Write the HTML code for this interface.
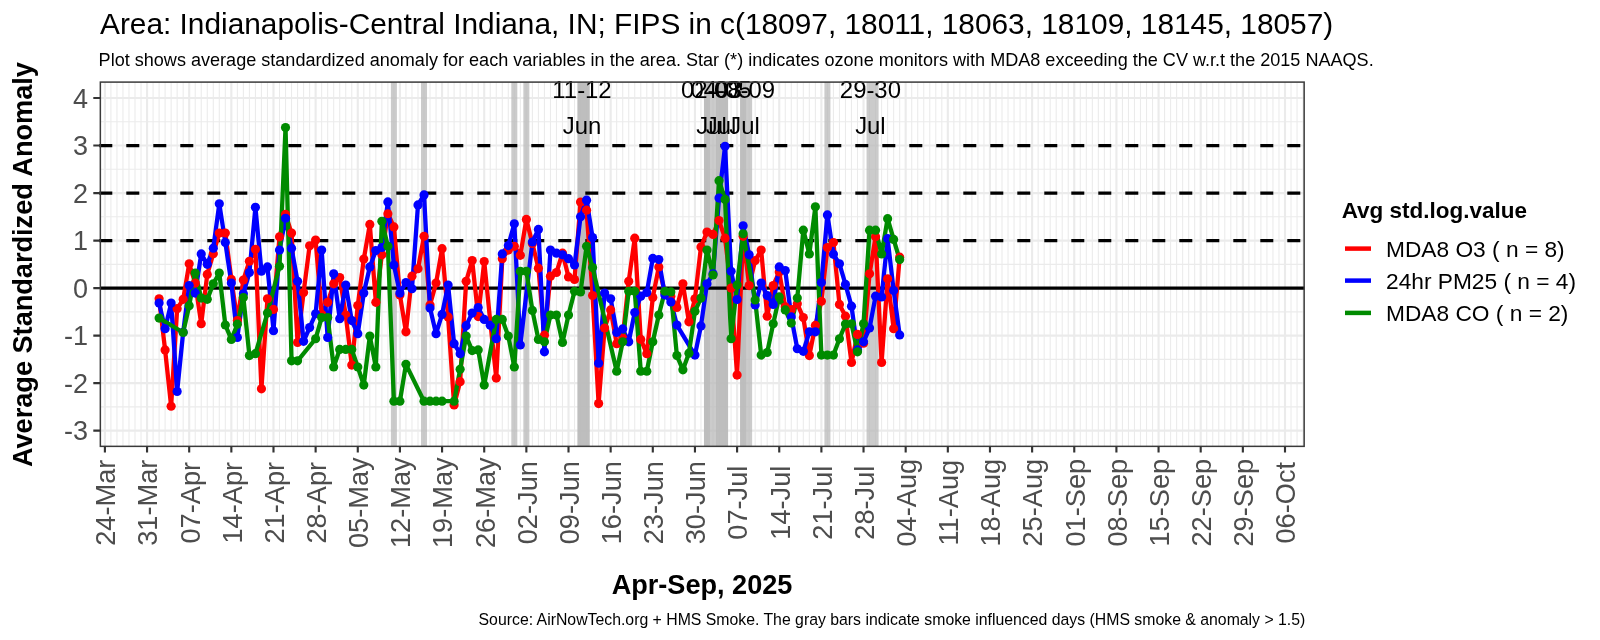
<!DOCTYPE html><html><head><meta charset="utf-8"><style>html,body{margin:0;padding:0;background:#fff;width:1600px;height:640px;overflow:hidden}svg{display:block;will-change:transform}</style></head><body>
<svg width="1600" height="640" viewBox="0 0 1600 640" font-family='&quot;Liberation Sans&quot;, sans-serif'>
<rect width="1600" height="640" fill="#fff"/>
<rect x="100" y="82" width="1204.4" height="364.4" fill="#fff"/>
<path d="M110.92 82V446.4M116.94 82V446.4M122.96 82V446.4M128.98 82V446.4M135 82V446.4M141.03 82V446.4M153.07 82V446.4M159.09 82V446.4M165.11 82V446.4M171.13 82V446.4M177.15 82V446.4M183.17 82V446.4M195.21 82V446.4M201.23 82V446.4M207.26 82V446.4M213.28 82V446.4M219.3 82V446.4M225.32 82V446.4M237.36 82V446.4M243.38 82V446.4M249.4 82V446.4M255.42 82V446.4M261.44 82V446.4M267.46 82V446.4M279.51 82V446.4M285.53 82V446.4M291.55 82V446.4M297.57 82V446.4M303.59 82V446.4M309.61 82V446.4M321.65 82V446.4M327.67 82V446.4M333.69 82V446.4M339.72 82V446.4M345.74 82V446.4M351.76 82V446.4M363.8 82V446.4M369.82 82V446.4M375.84 82V446.4M381.86 82V446.4M387.88 82V446.4M393.9 82V446.4M405.95 82V446.4M411.97 82V446.4M417.99 82V446.4M424.01 82V446.4M430.03 82V446.4M436.05 82V446.4M448.09 82V446.4M454.11 82V446.4M460.13 82V446.4M466.15 82V446.4M472.17 82V446.4M478.2 82V446.4M490.24 82V446.4M496.26 82V446.4M502.28 82V446.4M508.3 82V446.4M514.32 82V446.4M520.34 82V446.4M532.38 82V446.4M538.4 82V446.4M544.43 82V446.4M550.45 82V446.4M556.47 82V446.4M562.49 82V446.4M574.53 82V446.4M580.55 82V446.4M586.57 82V446.4M592.59 82V446.4M598.61 82V446.4M604.63 82V446.4M616.68 82V446.4M622.7 82V446.4M628.72 82V446.4M634.74 82V446.4M640.76 82V446.4M646.78 82V446.4M658.82 82V446.4M664.84 82V446.4M670.86 82V446.4M676.89 82V446.4M682.91 82V446.4M688.93 82V446.4M700.97 82V446.4M706.99 82V446.4M713.01 82V446.4M719.03 82V446.4M725.05 82V446.4M731.07 82V446.4M743.12 82V446.4M749.14 82V446.4M755.16 82V446.4M761.18 82V446.4M767.2 82V446.4M773.22 82V446.4M785.26 82V446.4M791.28 82V446.4M797.3 82V446.4M803.32 82V446.4M809.35 82V446.4M815.37 82V446.4M827.41 82V446.4M833.43 82V446.4M839.45 82V446.4M845.47 82V446.4M851.49 82V446.4M857.51 82V446.4M869.55 82V446.4M875.58 82V446.4M881.6 82V446.4M887.62 82V446.4M893.64 82V446.4M899.66 82V446.4M911.7 82V446.4M917.72 82V446.4M923.74 82V446.4M929.76 82V446.4M935.78 82V446.4M941.81 82V446.4M953.85 82V446.4M959.87 82V446.4M965.89 82V446.4M971.91 82V446.4M977.93 82V446.4M983.95 82V446.4M995.99 82V446.4M1002.01 82V446.4M1008.03 82V446.4M1014.06 82V446.4M1020.08 82V446.4M1026.1 82V446.4M1038.14 82V446.4M1044.16 82V446.4M1050.18 82V446.4M1056.2 82V446.4M1062.22 82V446.4M1068.24 82V446.4M1080.29 82V446.4M1086.31 82V446.4M1092.33 82V446.4M1098.35 82V446.4M1104.37 82V446.4M1110.39 82V446.4M1122.43 82V446.4M1128.45 82V446.4M1134.47 82V446.4M1140.49 82V446.4M1146.52 82V446.4M1152.54 82V446.4M1164.58 82V446.4M1170.6 82V446.4M1176.62 82V446.4M1182.64 82V446.4M1188.66 82V446.4M1194.68 82V446.4M1206.72 82V446.4M1212.75 82V446.4M1218.77 82V446.4M1224.79 82V446.4M1230.81 82V446.4M1236.83 82V446.4M1248.87 82V446.4M1254.89 82V446.4M1260.91 82V446.4M1266.93 82V446.4M1272.95 82V446.4M1278.98 82V446.4M1291.02 82V446.4M1297.04 82V446.4M1303.06 82V446.4" stroke="#EBEBEB" stroke-width="1.07" fill="none"/>
<path d="M100 406.9H1304.4M100 359.38H1304.4M100 311.86H1304.4M100 264.34H1304.4M100 216.82H1304.4M100 169.3H1304.4M100 121.78H1304.4" stroke="#EBEBEB" stroke-width="1.07" fill="none"/>
<path d="M104.9 82V446.4M147.05 82V446.4M189.19 82V446.4M231.34 82V446.4M273.49 82V446.4M315.63 82V446.4M357.78 82V446.4M399.92 82V446.4M442.07 82V446.4M484.22 82V446.4M526.36 82V446.4M568.51 82V446.4M610.66 82V446.4M652.8 82V446.4M694.95 82V446.4M737.09 82V446.4M779.24 82V446.4M821.39 82V446.4M863.53 82V446.4M905.68 82V446.4M947.83 82V446.4M989.97 82V446.4M1032.12 82V446.4M1074.26 82V446.4M1116.41 82V446.4M1158.56 82V446.4M1200.7 82V446.4M1242.85 82V446.4M1285 82V446.4M100 430.66H1304.4M100 383.14H1304.4M100 335.62H1304.4M100 288.1H1304.4M100 240.58H1304.4M100 193.06H1304.4M100 145.54H1304.4M100 98.02H1304.4" stroke="#EBEBEB" stroke-width="2.13" fill="none"/>
<rect x="390.89" y="82" width="6.02" height="364.4" fill="#BABABA" fill-opacity="0.75"/>
<rect x="421" y="82" width="6.02" height="364.4" fill="#BABABA" fill-opacity="0.75"/>
<rect x="511.31" y="82" width="6.02" height="364.4" fill="#BABABA" fill-opacity="0.75"/>
<rect x="523.35" y="82" width="6.02" height="364.4" fill="#BABABA" fill-opacity="0.75"/>
<rect x="577.54" y="82" width="12.04" height="364.4" fill="#BABABA" fill-opacity="0.75"/>
<rect x="703.98" y="82" width="24.08" height="364.4" fill="#BABABA" fill-opacity="0.75"/>
<rect x="740.1" y="82" width="12.04" height="364.4" fill="#BABABA" fill-opacity="0.75"/>
<rect x="824.4" y="82" width="6.02" height="364.4" fill="#BABABA" fill-opacity="0.75"/>
<rect x="866.54" y="82" width="12.04" height="364.4" fill="#BABABA" fill-opacity="0.75"/>
<rect x="577.54" y="82" width="12.04" height="364.4" fill="#BABABA" fill-opacity="0.75"/>
<rect x="703.98" y="82" width="6.02" height="364.4" fill="#BABABA" fill-opacity="0.75"/>
<rect x="716.02" y="82" width="12.04" height="364.4" fill="#BABABA" fill-opacity="0.75"/>
<rect x="740.1" y="82" width="6.02" height="364.4" fill="#BABABA" fill-opacity="0.75"/>
<path d="M99.3 240.58H1304.4" stroke="#000" stroke-width="3.3" stroke-dasharray="13 14" fill="none"/>
<path d="M99.3 193.06H1304.4" stroke="#000" stroke-width="3.3" stroke-dasharray="13 14" fill="none"/>
<path d="M99.3 145.54H1304.4" stroke="#000" stroke-width="3.3" stroke-dasharray="13 14" fill="none"/>
<path d="M100 288.1H1304.4" stroke="#000" stroke-width="3.2" fill="none"/>
<polyline points="159.09,298.74 165.11,349.88 171.13,406.23 177.15,308.72 183.17,299.36 189.19,263.77 195.21,283.11 201.23,323.74 207.26,274.41 213.28,253.74 219.3,232.98 225.32,232.98 231.34,279.4 237.36,320.6 243.38,280.02 249.4,261.25 255.42,249.37 261.44,388.84 267.46,298.74 273.49,309.39 279.51,236.78 285.53,214.44 291.55,233.12 297.57,342.51 303.59,292.52 309.61,245.81 315.63,240.1 321.65,314.24 327.67,302.36 333.69,283.82 339.72,277.5 345.74,315 351.76,365.08 357.78,305.59 363.8,259.11 369.82,224.42 375.84,302.36 381.86,254.84 387.88,213.73 393.9,226.89 399.92,294.99 405.95,331.82 411.97,276.22 417.99,268.76 424.01,236.3 430.03,305.02 436.05,283.11 442.07,248.66 448.09,316.9 454.11,405 460.13,381.71 466.15,281.26 472.17,260.54 478.2,316.61 484.22,261.49 490.24,321.36 496.26,378.1 502.28,258.64 508.3,250.08 514.32,246.28 520.34,255.31 526.36,219.39 532.38,243.43 538.4,268.14 544.43,335.14 550.45,276.22 556.47,272.51 562.49,253.13 568.51,276.89 574.53,279.4 580.55,202.09 586.57,210.17 592.59,295.61 598.61,403.57 604.63,328.02 610.66,309.96 616.68,343.7 622.7,338 628.72,281.26 634.74,238.2 640.76,339.42 646.78,353.68 652.8,297.51 658.82,266.91 664.84,292.85 670.86,296.18 676.89,307.49 682.91,283.82 688.93,321.84 694.95,298.74 700.97,246.9 706.99,232.03 713.01,234.4 719.03,220.62 725.05,238.2 731.07,288.1 737.09,375.06 743.12,236.3 749.14,285.58 755.16,260.54 761.18,250.08 767.2,316.14 773.22,285.58 779.24,271.94 785.26,306.87 791.28,309.48 797.3,303.78 803.32,317.56 809.35,355.58 815.37,325.4 821.39,301.26 827.41,247.52 833.43,242.48 839.45,304.4 845.47,316.14 851.49,362.52 857.51,334.38 863.53,343.22 869.55,273.84 875.58,236.78 881.6,362.52 887.62,278.74 893.64,328.73 899.66,257.21" fill="none" stroke="#FF0000" stroke-width="4.3" stroke-linejoin="round" stroke-linecap="butt"/>
<polyline points="159.09,303.12 165.11,328.73 171.13,303.12 177.15,391.5 183.17,332.29 189.19,285.58 195.21,293.09 201.23,253.89 207.26,264.34 213.28,248.18 219.3,203.75 225.32,242.48 231.34,283.11 237.36,337.52 243.38,293.8 249.4,272.51 255.42,207.32 261.44,271.23 267.46,266.91 273.49,330.63 279.51,250.08 285.53,218.25 291.55,248.18 297.57,281.26 303.59,341.32 309.61,327.54 315.63,313.76 321.65,250.08 327.67,337.52 333.69,273.84 339.72,318.75 345.74,285.01 351.76,320.6 357.78,333.72 363.8,293.09 369.82,266.91 375.84,250.56 381.86,247.52 387.88,201.9 393.9,265.01 399.92,293.09 405.95,282.49 411.97,288.77 417.99,204.94 424.01,194.96 430.03,308.06 436.05,333.72 442.07,314.38 448.09,285.01 454.11,343.7 460.13,353.68 466.15,325.64 472.17,313.1 478.2,307.49 484.22,319.46 490.24,325.17 496.26,338.76 502.28,253.89 508.3,245.62 514.32,223.76 520.34,344.98 532.38,242.01 538.4,229.41 544.43,351.78 550.45,250.08 556.47,253.13 562.49,254.84 568.51,258.64 574.53,265.01 580.55,216.82 586.57,200.19 592.59,237.49 598.61,363.18 604.63,293.09 610.66,298.74 616.68,332.48 622.7,328.97 628.72,341.8 634.74,312.48 640.76,296.18 646.78,292.52 652.8,258.4 658.82,259.59 664.84,294.99 670.86,301.88 676.89,325.02 694.95,355.1 700.97,325.88 706.99,283.82 713.01,273.84 719.03,198.1 725.05,146.25 731.07,271.23 737.09,299.5 743.12,225.85 749.14,254.84 755.16,305.02 761.18,283.11 767.2,295.61 773.22,304.4 779.24,266.91 785.26,270.61 791.28,316.9 797.3,348.74 803.32,351.3 809.35,331.82 815.37,331.82 821.39,282.49 827.41,214.92 833.43,254.36 839.45,263.77 845.47,284.39 851.49,306.16 857.51,349.88 863.53,341.8 869.55,328.02 875.58,296.18 881.6,296.89 887.62,238.68 893.64,290.48 899.66,335" fill="none" stroke="#0000FF" stroke-width="4.3" stroke-linejoin="round" stroke-linecap="butt"/>
<polyline points="159.09,318.04 183.17,332.48 189.19,305.68 195.21,273.08 201.23,298.08 207.26,299.36 213.28,283.82 219.3,273.08 225.32,325.02 231.34,339.42 237.36,324.22 243.38,297.51 249.4,355.58 255.42,353.68 267.46,313.1 279.51,266.24 285.53,127.48 291.55,360.81 297.57,360.81 315.63,338.76 321.65,317.56 327.67,317.56 333.69,366.98 339.72,349.4 345.74,349.4 351.76,349.4 357.78,366.98 363.8,385.04 369.82,336.1 375.84,366.98 381.86,221.24 387.88,246.28 393.9,401.2 399.92,401.2 405.95,364.37 424.01,401.2 430.03,401.2 436.05,401.2 442.07,401.2 454.11,401.2 460.13,369.36 466.15,336.1 472.17,350.59 478.2,349.88 484.22,385.04 496.26,319.46 502.28,319.46 508.3,336.1 514.32,366.98 520.34,271.23 526.36,271.23 532.38,310.43 538.4,339.42 544.43,341.8 550.45,315 556.47,315 562.49,342.51 568.51,315 574.53,291.24 580.55,291.9 586.57,246.28 592.59,267.48 616.68,371.26 622.7,341.8 628.72,291.24 634.74,291.24 640.76,371.26 646.78,371.26 652.8,341.8 658.82,315 664.84,291.24 670.86,291.9 676.89,355.58 682.91,369.83 688.93,353.2 694.95,311.24 700.97,298.08 706.99,250.08 713.01,274.98 719.03,180.7 725.05,199.43 731.07,338.76 737.09,285.01 743.12,233.74 755.16,299.98 761.18,355.1 767.2,352.49 773.22,323.74 779.24,296.89 785.26,309.96 791.28,323.12 797.3,298.08 803.32,230.13 809.35,253.89 815.37,206.84 821.39,355.1 827.41,355.1 833.43,355.1 839.45,338.76 845.47,323.98 851.49,323.74 857.51,351.78 863.53,323.74 869.55,230.13 875.58,230.13 881.6,253.89 887.62,218.72 893.64,239.39 899.66,259.59" fill="none" stroke="#008B00" stroke-width="4.3" stroke-linejoin="round" stroke-linecap="butt"/>
<g fill="#FF0000">
<circle cx="159.09" cy="298.74" r="4.6"/>
<circle cx="165.11" cy="349.88" r="4.6"/>
<circle cx="171.13" cy="406.23" r="4.6"/>
<circle cx="177.15" cy="308.72" r="4.6"/>
<circle cx="183.17" cy="299.36" r="4.6"/>
<circle cx="189.19" cy="263.77" r="4.6"/>
<circle cx="195.21" cy="283.11" r="4.6"/>
<circle cx="201.23" cy="323.74" r="4.6"/>
<circle cx="207.26" cy="274.41" r="4.6"/>
<circle cx="213.28" cy="253.74" r="4.6"/>
<circle cx="219.3" cy="232.98" r="4.6"/>
<circle cx="225.32" cy="232.98" r="4.6"/>
<circle cx="231.34" cy="279.4" r="4.6"/>
<circle cx="237.36" cy="320.6" r="4.6"/>
<circle cx="243.38" cy="280.02" r="4.6"/>
<circle cx="249.4" cy="261.25" r="4.6"/>
<circle cx="255.42" cy="249.37" r="4.6"/>
<circle cx="261.44" cy="388.84" r="4.6"/>
<circle cx="267.46" cy="298.74" r="4.6"/>
<circle cx="273.49" cy="309.39" r="4.6"/>
<circle cx="279.51" cy="236.78" r="4.6"/>
<circle cx="285.53" cy="214.44" r="4.6"/>
<circle cx="291.55" cy="233.12" r="4.6"/>
<circle cx="297.57" cy="342.51" r="4.6"/>
<circle cx="303.59" cy="292.52" r="4.6"/>
<circle cx="309.61" cy="245.81" r="4.6"/>
<circle cx="315.63" cy="240.1" r="4.6"/>
<circle cx="321.65" cy="314.24" r="4.6"/>
<circle cx="327.67" cy="302.36" r="4.6"/>
<circle cx="333.69" cy="283.82" r="4.6"/>
<circle cx="339.72" cy="277.5" r="4.6"/>
<circle cx="345.74" cy="315" r="4.6"/>
<circle cx="351.76" cy="365.08" r="4.6"/>
<circle cx="357.78" cy="305.59" r="4.6"/>
<circle cx="363.8" cy="259.11" r="4.6"/>
<circle cx="369.82" cy="224.42" r="4.6"/>
<circle cx="375.84" cy="302.36" r="4.6"/>
<circle cx="381.86" cy="254.84" r="4.6"/>
<circle cx="387.88" cy="213.73" r="4.6"/>
<circle cx="393.9" cy="226.89" r="4.6"/>
<circle cx="399.92" cy="294.99" r="4.6"/>
<circle cx="405.95" cy="331.82" r="4.6"/>
<circle cx="411.97" cy="276.22" r="4.6"/>
<circle cx="417.99" cy="268.76" r="4.6"/>
<circle cx="424.01" cy="236.3" r="4.6"/>
<circle cx="430.03" cy="305.02" r="4.6"/>
<circle cx="436.05" cy="283.11" r="4.6"/>
<circle cx="442.07" cy="248.66" r="4.6"/>
<circle cx="448.09" cy="316.9" r="4.6"/>
<circle cx="454.11" cy="405" r="4.6"/>
<circle cx="460.13" cy="381.71" r="4.6"/>
<circle cx="466.15" cy="281.26" r="4.6"/>
<circle cx="472.17" cy="260.54" r="4.6"/>
<circle cx="478.2" cy="316.61" r="4.6"/>
<circle cx="484.22" cy="261.49" r="4.6"/>
<circle cx="490.24" cy="321.36" r="4.6"/>
<circle cx="496.26" cy="378.1" r="4.6"/>
<circle cx="502.28" cy="258.64" r="4.6"/>
<circle cx="508.3" cy="250.08" r="4.6"/>
<circle cx="514.32" cy="246.28" r="4.6"/>
<circle cx="520.34" cy="255.31" r="4.6"/>
<circle cx="526.36" cy="219.39" r="4.6"/>
<circle cx="532.38" cy="243.43" r="4.6"/>
<circle cx="538.4" cy="268.14" r="4.6"/>
<circle cx="544.43" cy="335.14" r="4.6"/>
<circle cx="550.45" cy="276.22" r="4.6"/>
<circle cx="556.47" cy="272.51" r="4.6"/>
<circle cx="562.49" cy="253.13" r="4.6"/>
<circle cx="568.51" cy="276.89" r="4.6"/>
<circle cx="574.53" cy="279.4" r="4.6"/>
<circle cx="580.55" cy="202.09" r="4.6"/>
<circle cx="586.57" cy="210.17" r="4.6"/>
<circle cx="592.59" cy="295.61" r="4.6"/>
<circle cx="598.61" cy="403.57" r="4.6"/>
<circle cx="604.63" cy="328.02" r="4.6"/>
<circle cx="610.66" cy="309.96" r="4.6"/>
<circle cx="616.68" cy="343.7" r="4.6"/>
<circle cx="622.7" cy="338" r="4.6"/>
<circle cx="628.72" cy="281.26" r="4.6"/>
<circle cx="634.74" cy="238.2" r="4.6"/>
<circle cx="640.76" cy="339.42" r="4.6"/>
<circle cx="646.78" cy="353.68" r="4.6"/>
<circle cx="652.8" cy="297.51" r="4.6"/>
<circle cx="658.82" cy="266.91" r="4.6"/>
<circle cx="664.84" cy="292.85" r="4.6"/>
<circle cx="670.86" cy="296.18" r="4.6"/>
<circle cx="676.89" cy="307.49" r="4.6"/>
<circle cx="682.91" cy="283.82" r="4.6"/>
<circle cx="688.93" cy="321.84" r="4.6"/>
<circle cx="694.95" cy="298.74" r="4.6"/>
<circle cx="700.97" cy="246.9" r="4.6"/>
<circle cx="706.99" cy="232.03" r="4.6"/>
<circle cx="713.01" cy="234.4" r="4.6"/>
<circle cx="719.03" cy="220.62" r="4.6"/>
<circle cx="725.05" cy="238.2" r="4.6"/>
<circle cx="731.07" cy="288.1" r="4.6"/>
<circle cx="737.09" cy="375.06" r="4.6"/>
<circle cx="743.12" cy="236.3" r="4.6"/>
<circle cx="749.14" cy="285.58" r="4.6"/>
<circle cx="755.16" cy="260.54" r="4.6"/>
<circle cx="761.18" cy="250.08" r="4.6"/>
<circle cx="767.2" cy="316.14" r="4.6"/>
<circle cx="773.22" cy="285.58" r="4.6"/>
<circle cx="779.24" cy="271.94" r="4.6"/>
<circle cx="785.26" cy="306.87" r="4.6"/>
<circle cx="791.28" cy="309.48" r="4.6"/>
<circle cx="797.3" cy="303.78" r="4.6"/>
<circle cx="803.32" cy="317.56" r="4.6"/>
<circle cx="809.35" cy="355.58" r="4.6"/>
<circle cx="815.37" cy="325.4" r="4.6"/>
<circle cx="821.39" cy="301.26" r="4.6"/>
<circle cx="827.41" cy="247.52" r="4.6"/>
<circle cx="833.43" cy="242.48" r="4.6"/>
<circle cx="839.45" cy="304.4" r="4.6"/>
<circle cx="845.47" cy="316.14" r="4.6"/>
<circle cx="851.49" cy="362.52" r="4.6"/>
<circle cx="857.51" cy="334.38" r="4.6"/>
<circle cx="863.53" cy="343.22" r="4.6"/>
<circle cx="869.55" cy="273.84" r="4.6"/>
<circle cx="875.58" cy="236.78" r="4.6"/>
<circle cx="881.6" cy="362.52" r="4.6"/>
<circle cx="887.62" cy="278.74" r="4.6"/>
<circle cx="893.64" cy="328.73" r="4.6"/>
<circle cx="899.66" cy="257.21" r="4.6"/>
</g>
<g fill="#0000FF">
<circle cx="159.09" cy="303.12" r="4.6"/>
<circle cx="165.11" cy="328.73" r="4.6"/>
<circle cx="171.13" cy="303.12" r="4.6"/>
<circle cx="177.15" cy="391.5" r="4.6"/>
<circle cx="183.17" cy="332.29" r="4.6"/>
<circle cx="189.19" cy="285.58" r="4.6"/>
<circle cx="195.21" cy="293.09" r="4.6"/>
<circle cx="201.23" cy="253.89" r="4.6"/>
<circle cx="207.26" cy="264.34" r="4.6"/>
<circle cx="213.28" cy="248.18" r="4.6"/>
<circle cx="219.3" cy="203.75" r="4.6"/>
<circle cx="225.32" cy="242.48" r="4.6"/>
<circle cx="231.34" cy="283.11" r="4.6"/>
<circle cx="237.36" cy="337.52" r="4.6"/>
<circle cx="243.38" cy="293.8" r="4.6"/>
<circle cx="249.4" cy="272.51" r="4.6"/>
<circle cx="255.42" cy="207.32" r="4.6"/>
<circle cx="261.44" cy="271.23" r="4.6"/>
<circle cx="267.46" cy="266.91" r="4.6"/>
<circle cx="273.49" cy="330.63" r="4.6"/>
<circle cx="279.51" cy="250.08" r="4.6"/>
<circle cx="285.53" cy="218.25" r="4.6"/>
<circle cx="291.55" cy="248.18" r="4.6"/>
<circle cx="297.57" cy="281.26" r="4.6"/>
<circle cx="303.59" cy="341.32" r="4.6"/>
<circle cx="309.61" cy="327.54" r="4.6"/>
<circle cx="315.63" cy="313.76" r="4.6"/>
<circle cx="321.65" cy="250.08" r="4.6"/>
<circle cx="327.67" cy="337.52" r="4.6"/>
<circle cx="333.69" cy="273.84" r="4.6"/>
<circle cx="339.72" cy="318.75" r="4.6"/>
<circle cx="345.74" cy="285.01" r="4.6"/>
<circle cx="351.76" cy="320.6" r="4.6"/>
<circle cx="357.78" cy="333.72" r="4.6"/>
<circle cx="363.8" cy="293.09" r="4.6"/>
<circle cx="369.82" cy="266.91" r="4.6"/>
<circle cx="375.84" cy="250.56" r="4.6"/>
<circle cx="381.86" cy="247.52" r="4.6"/>
<circle cx="387.88" cy="201.9" r="4.6"/>
<circle cx="393.9" cy="265.01" r="4.6"/>
<circle cx="399.92" cy="293.09" r="4.6"/>
<circle cx="405.95" cy="282.49" r="4.6"/>
<circle cx="411.97" cy="288.77" r="4.6"/>
<circle cx="417.99" cy="204.94" r="4.6"/>
<circle cx="424.01" cy="194.96" r="4.6"/>
<circle cx="430.03" cy="308.06" r="4.6"/>
<circle cx="436.05" cy="333.72" r="4.6"/>
<circle cx="442.07" cy="314.38" r="4.6"/>
<circle cx="448.09" cy="285.01" r="4.6"/>
<circle cx="454.11" cy="343.7" r="4.6"/>
<circle cx="460.13" cy="353.68" r="4.6"/>
<circle cx="466.15" cy="325.64" r="4.6"/>
<circle cx="472.17" cy="313.1" r="4.6"/>
<circle cx="478.2" cy="307.49" r="4.6"/>
<circle cx="484.22" cy="319.46" r="4.6"/>
<circle cx="490.24" cy="325.17" r="4.6"/>
<circle cx="496.26" cy="338.76" r="4.6"/>
<circle cx="502.28" cy="253.89" r="4.6"/>
<circle cx="508.3" cy="245.62" r="4.6"/>
<circle cx="514.32" cy="223.76" r="4.6"/>
<circle cx="520.34" cy="344.98" r="4.6"/>
<circle cx="532.38" cy="242.01" r="4.6"/>
<circle cx="538.4" cy="229.41" r="4.6"/>
<circle cx="544.43" cy="351.78" r="4.6"/>
<circle cx="550.45" cy="250.08" r="4.6"/>
<circle cx="556.47" cy="253.13" r="4.6"/>
<circle cx="562.49" cy="254.84" r="4.6"/>
<circle cx="568.51" cy="258.64" r="4.6"/>
<circle cx="574.53" cy="265.01" r="4.6"/>
<circle cx="580.55" cy="216.82" r="4.6"/>
<circle cx="586.57" cy="200.19" r="4.6"/>
<circle cx="592.59" cy="237.49" r="4.6"/>
<circle cx="598.61" cy="363.18" r="4.6"/>
<circle cx="604.63" cy="293.09" r="4.6"/>
<circle cx="610.66" cy="298.74" r="4.6"/>
<circle cx="616.68" cy="332.48" r="4.6"/>
<circle cx="622.7" cy="328.97" r="4.6"/>
<circle cx="628.72" cy="341.8" r="4.6"/>
<circle cx="634.74" cy="312.48" r="4.6"/>
<circle cx="640.76" cy="296.18" r="4.6"/>
<circle cx="646.78" cy="292.52" r="4.6"/>
<circle cx="652.8" cy="258.4" r="4.6"/>
<circle cx="658.82" cy="259.59" r="4.6"/>
<circle cx="664.84" cy="294.99" r="4.6"/>
<circle cx="670.86" cy="301.88" r="4.6"/>
<circle cx="676.89" cy="325.02" r="4.6"/>
<circle cx="694.95" cy="355.1" r="4.6"/>
<circle cx="700.97" cy="325.88" r="4.6"/>
<circle cx="706.99" cy="283.82" r="4.6"/>
<circle cx="713.01" cy="273.84" r="4.6"/>
<circle cx="719.03" cy="198.1" r="4.6"/>
<circle cx="725.05" cy="146.25" r="4.6"/>
<circle cx="731.07" cy="271.23" r="4.6"/>
<circle cx="737.09" cy="299.5" r="4.6"/>
<circle cx="743.12" cy="225.85" r="4.6"/>
<circle cx="749.14" cy="254.84" r="4.6"/>
<circle cx="755.16" cy="305.02" r="4.6"/>
<circle cx="761.18" cy="283.11" r="4.6"/>
<circle cx="767.2" cy="295.61" r="4.6"/>
<circle cx="773.22" cy="304.4" r="4.6"/>
<circle cx="779.24" cy="266.91" r="4.6"/>
<circle cx="785.26" cy="270.61" r="4.6"/>
<circle cx="791.28" cy="316.9" r="4.6"/>
<circle cx="797.3" cy="348.74" r="4.6"/>
<circle cx="803.32" cy="351.3" r="4.6"/>
<circle cx="809.35" cy="331.82" r="4.6"/>
<circle cx="815.37" cy="331.82" r="4.6"/>
<circle cx="821.39" cy="282.49" r="4.6"/>
<circle cx="827.41" cy="214.92" r="4.6"/>
<circle cx="833.43" cy="254.36" r="4.6"/>
<circle cx="839.45" cy="263.77" r="4.6"/>
<circle cx="845.47" cy="284.39" r="4.6"/>
<circle cx="851.49" cy="306.16" r="4.6"/>
<circle cx="857.51" cy="349.88" r="4.6"/>
<circle cx="863.53" cy="341.8" r="4.6"/>
<circle cx="869.55" cy="328.02" r="4.6"/>
<circle cx="875.58" cy="296.18" r="4.6"/>
<circle cx="881.6" cy="296.89" r="4.6"/>
<circle cx="887.62" cy="238.68" r="4.6"/>
<circle cx="893.64" cy="290.48" r="4.6"/>
<circle cx="899.66" cy="335" r="4.6"/>
</g>
<g fill="#008B00">
<circle cx="159.09" cy="318.04" r="4.6"/>
<circle cx="183.17" cy="332.48" r="4.6"/>
<circle cx="189.19" cy="305.68" r="4.6"/>
<circle cx="195.21" cy="273.08" r="4.6"/>
<circle cx="201.23" cy="298.08" r="4.6"/>
<circle cx="207.26" cy="299.36" r="4.6"/>
<circle cx="213.28" cy="283.82" r="4.6"/>
<circle cx="219.3" cy="273.08" r="4.6"/>
<circle cx="225.32" cy="325.02" r="4.6"/>
<circle cx="231.34" cy="339.42" r="4.6"/>
<circle cx="237.36" cy="324.22" r="4.6"/>
<circle cx="243.38" cy="297.51" r="4.6"/>
<circle cx="249.4" cy="355.58" r="4.6"/>
<circle cx="255.42" cy="353.68" r="4.6"/>
<circle cx="267.46" cy="313.1" r="4.6"/>
<circle cx="279.51" cy="266.24" r="4.6"/>
<circle cx="285.53" cy="127.48" r="4.6"/>
<circle cx="291.55" cy="360.81" r="4.6"/>
<circle cx="297.57" cy="360.81" r="4.6"/>
<circle cx="315.63" cy="338.76" r="4.6"/>
<circle cx="321.65" cy="317.56" r="4.6"/>
<circle cx="327.67" cy="317.56" r="4.6"/>
<circle cx="333.69" cy="366.98" r="4.6"/>
<circle cx="339.72" cy="349.4" r="4.6"/>
<circle cx="345.74" cy="349.4" r="4.6"/>
<circle cx="351.76" cy="349.4" r="4.6"/>
<circle cx="357.78" cy="366.98" r="4.6"/>
<circle cx="363.8" cy="385.04" r="4.6"/>
<circle cx="369.82" cy="336.1" r="4.6"/>
<circle cx="375.84" cy="366.98" r="4.6"/>
<circle cx="381.86" cy="221.24" r="4.6"/>
<circle cx="387.88" cy="246.28" r="4.6"/>
<circle cx="393.9" cy="401.2" r="4.6"/>
<circle cx="399.92" cy="401.2" r="4.6"/>
<circle cx="405.95" cy="364.37" r="4.6"/>
<circle cx="424.01" cy="401.2" r="4.6"/>
<circle cx="430.03" cy="401.2" r="4.6"/>
<circle cx="436.05" cy="401.2" r="4.6"/>
<circle cx="442.07" cy="401.2" r="4.6"/>
<circle cx="454.11" cy="401.2" r="4.6"/>
<circle cx="460.13" cy="369.36" r="4.6"/>
<circle cx="466.15" cy="336.1" r="4.6"/>
<circle cx="472.17" cy="350.59" r="4.6"/>
<circle cx="478.2" cy="349.88" r="4.6"/>
<circle cx="484.22" cy="385.04" r="4.6"/>
<circle cx="496.26" cy="319.46" r="4.6"/>
<circle cx="502.28" cy="319.46" r="4.6"/>
<circle cx="508.3" cy="336.1" r="4.6"/>
<circle cx="514.32" cy="366.98" r="4.6"/>
<circle cx="520.34" cy="271.23" r="4.6"/>
<circle cx="526.36" cy="271.23" r="4.6"/>
<circle cx="532.38" cy="310.43" r="4.6"/>
<circle cx="538.4" cy="339.42" r="4.6"/>
<circle cx="544.43" cy="341.8" r="4.6"/>
<circle cx="550.45" cy="315" r="4.6"/>
<circle cx="556.47" cy="315" r="4.6"/>
<circle cx="562.49" cy="342.51" r="4.6"/>
<circle cx="568.51" cy="315" r="4.6"/>
<circle cx="574.53" cy="291.24" r="4.6"/>
<circle cx="580.55" cy="291.9" r="4.6"/>
<circle cx="586.57" cy="246.28" r="4.6"/>
<circle cx="592.59" cy="267.48" r="4.6"/>
<circle cx="616.68" cy="371.26" r="4.6"/>
<circle cx="622.7" cy="341.8" r="4.6"/>
<circle cx="628.72" cy="291.24" r="4.6"/>
<circle cx="634.74" cy="291.24" r="4.6"/>
<circle cx="640.76" cy="371.26" r="4.6"/>
<circle cx="646.78" cy="371.26" r="4.6"/>
<circle cx="652.8" cy="341.8" r="4.6"/>
<circle cx="658.82" cy="315" r="4.6"/>
<circle cx="664.84" cy="291.24" r="4.6"/>
<circle cx="670.86" cy="291.9" r="4.6"/>
<circle cx="676.89" cy="355.58" r="4.6"/>
<circle cx="682.91" cy="369.83" r="4.6"/>
<circle cx="688.93" cy="353.2" r="4.6"/>
<circle cx="694.95" cy="311.24" r="4.6"/>
<circle cx="700.97" cy="298.08" r="4.6"/>
<circle cx="706.99" cy="250.08" r="4.6"/>
<circle cx="713.01" cy="274.98" r="4.6"/>
<circle cx="719.03" cy="180.7" r="4.6"/>
<circle cx="725.05" cy="199.43" r="4.6"/>
<circle cx="731.07" cy="338.76" r="4.6"/>
<circle cx="737.09" cy="285.01" r="4.6"/>
<circle cx="743.12" cy="233.74" r="4.6"/>
<circle cx="755.16" cy="299.98" r="4.6"/>
<circle cx="761.18" cy="355.1" r="4.6"/>
<circle cx="767.2" cy="352.49" r="4.6"/>
<circle cx="773.22" cy="323.74" r="4.6"/>
<circle cx="779.24" cy="296.89" r="4.6"/>
<circle cx="785.26" cy="309.96" r="4.6"/>
<circle cx="791.28" cy="323.12" r="4.6"/>
<circle cx="797.3" cy="298.08" r="4.6"/>
<circle cx="803.32" cy="230.13" r="4.6"/>
<circle cx="809.35" cy="253.89" r="4.6"/>
<circle cx="815.37" cy="206.84" r="4.6"/>
<circle cx="821.39" cy="355.1" r="4.6"/>
<circle cx="827.41" cy="355.1" r="4.6"/>
<circle cx="833.43" cy="355.1" r="4.6"/>
<circle cx="839.45" cy="338.76" r="4.6"/>
<circle cx="845.47" cy="323.98" r="4.6"/>
<circle cx="851.49" cy="323.74" r="4.6"/>
<circle cx="857.51" cy="351.78" r="4.6"/>
<circle cx="863.53" cy="323.74" r="4.6"/>
<circle cx="869.55" cy="230.13" r="4.6"/>
<circle cx="875.58" cy="230.13" r="4.6"/>
<circle cx="881.6" cy="253.89" r="4.6"/>
<circle cx="887.62" cy="218.72" r="4.6"/>
<circle cx="893.64" cy="239.39" r="4.6"/>
<circle cx="899.66" cy="259.59" r="4.6"/>
</g>
<g font-size="23.9" fill="#000" text-anchor="middle">
<text x="582" y="98.15">11-12</text><text x="582" y="133.75">Jun</text>
<text x="711.5" y="98.15">02-03</text><text x="711.5" y="133.75">Jul</text>
<text x="721" y="98.15">04-05</text><text x="721" y="133.75">Jul</text>
<text x="744.6" y="98.15">08-09</text><text x="744.6" y="133.75">Jul</text>
<text x="870.4" y="98.15">29-30</text><text x="870.4" y="133.75">Jul</text>
</g>
<rect x="100.35" y="82.1" width="1203.8" height="364.25" fill="none" stroke="#3A3A3A" stroke-width="1.5"/>
<g font-size="27" fill="#4D4D4D" text-anchor="end">
<text x="88" y="440.16">-3</text>
<text x="88" y="392.64">-2</text>
<text x="88" y="345.12">-1</text>
<text x="88" y="297.6">0</text>
<text x="88" y="250.08">1</text>
<text x="88" y="202.56">2</text>
<text x="88" y="155.04">3</text>
<text x="88" y="107.52">4</text>
</g>
<g font-size="27.2" fill="#4D4D4D" text-anchor="middle">
<text transform="translate(104.9 502.7) rotate(-90)" x="0" y="10.3">24-Mar</text>
<text transform="translate(147.05 502.7) rotate(-90)" x="0" y="10.3">31-Mar</text>
<text transform="translate(189.19 502.7) rotate(-90)" x="0" y="10.3">07-Apr</text>
<text transform="translate(231.34 502.7) rotate(-90)" x="0" y="10.3">14-Apr</text>
<text transform="translate(273.49 502.7) rotate(-90)" x="0" y="10.3">21-Apr</text>
<text transform="translate(315.63 502.7) rotate(-90)" x="0" y="10.3">28-Apr</text>
<text transform="translate(357.78 502.7) rotate(-90)" x="0" y="10.3">05-May</text>
<text transform="translate(399.92 502.7) rotate(-90)" x="0" y="10.3">12-May</text>
<text transform="translate(442.07 502.7) rotate(-90)" x="0" y="10.3">19-May</text>
<text transform="translate(484.22 502.7) rotate(-90)" x="0" y="10.3">26-May</text>
<text transform="translate(526.36 502.7) rotate(-90)" x="0" y="10.3">02-Jun</text>
<text transform="translate(568.51 502.7) rotate(-90)" x="0" y="10.3">09-Jun</text>
<text transform="translate(610.66 502.7) rotate(-90)" x="0" y="10.3">16-Jun</text>
<text transform="translate(652.8 502.7) rotate(-90)" x="0" y="10.3">23-Jun</text>
<text transform="translate(694.95 502.7) rotate(-90)" x="0" y="10.3">30-Jun</text>
<text transform="translate(737.09 502.7) rotate(-90)" x="0" y="10.3">07-Jul</text>
<text transform="translate(779.24 502.7) rotate(-90)" x="0" y="10.3">14-Jul</text>
<text transform="translate(821.39 502.7) rotate(-90)" x="0" y="10.3">21-Jul</text>
<text transform="translate(863.53 502.7) rotate(-90)" x="0" y="10.3">28-Jul</text>
<text transform="translate(905.68 502.7) rotate(-90)" x="0" y="10.3">04-Aug</text>
<text transform="translate(947.83 502.7) rotate(-90)" x="0" y="10.3">11-Aug</text>
<text transform="translate(989.97 502.7) rotate(-90)" x="0" y="10.3">18-Aug</text>
<text transform="translate(1032.12 502.7) rotate(-90)" x="0" y="10.3">25-Aug</text>
<text transform="translate(1074.26 502.7) rotate(-90)" x="0" y="10.3">01-Sep</text>
<text transform="translate(1116.41 502.7) rotate(-90)" x="0" y="10.3">08-Sep</text>
<text transform="translate(1158.56 502.7) rotate(-90)" x="0" y="10.3">15-Sep</text>
<text transform="translate(1200.7 502.7) rotate(-90)" x="0" y="10.3">22-Sep</text>
<text transform="translate(1242.85 502.7) rotate(-90)" x="0" y="10.3">29-Sep</text>
<text transform="translate(1285 502.7) rotate(-90)" x="0" y="10.3">06-Oct</text>
</g>
<path d="M93.3 430.66H100M93.3 383.14H100M93.3 335.62H100M93.3 288.1H100M93.3 240.58H100M93.3 193.06H100M93.3 145.54H100M93.3 98.02H100M104.9 446.4V452.6M147.05 446.4V452.6M189.19 446.4V452.6M231.34 446.4V452.6M273.49 446.4V452.6M315.63 446.4V452.6M357.78 446.4V452.6M399.92 446.4V452.6M442.07 446.4V452.6M484.22 446.4V452.6M526.36 446.4V452.6M568.51 446.4V452.6M610.66 446.4V452.6M652.8 446.4V452.6M694.95 446.4V452.6M737.09 446.4V452.6M779.24 446.4V452.6M821.39 446.4V452.6M863.53 446.4V452.6M905.68 446.4V452.6M947.83 446.4V452.6M989.97 446.4V452.6M1032.12 446.4V452.6M1074.26 446.4V452.6M1116.41 446.4V452.6M1158.56 446.4V452.6M1200.7 446.4V452.6M1242.85 446.4V452.6M1285 446.4V452.6" stroke="#333333" stroke-width="2.13" fill="none"/>
<text x="100" y="33.75" font-size="29.83" fill="#000">Area: Indianapolis-Central Indiana, IN; FIPS in c(18097, 18011, 18063, 18109, 18145, 18057)</text>
<text x="98.6" y="65.5" font-size="18.07" fill="#000">Plot shows average standardized anomaly for each variables in the area. Star (*) indicates ozone monitors with MDA8 exceeding the CV w.r.t the 2015 NAAQS.</text>
<text transform="translate(32 264.6) rotate(-90)" x="0" y="0" font-size="27.13" font-weight="bold" fill="#000" text-anchor="middle">Average Standardized Anomaly</text>
<text x="702" y="594.25" font-size="27.1" font-weight="bold" fill="#000" text-anchor="middle">Apr-Sep, 2025</text>
<text x="1305.3" y="624.5" font-size="15.82" fill="#000" text-anchor="end">Source: AirNowTech.org + HMS Smoke. The gray bars indicate smoke influenced days (HMS smoke &amp; anomaly &gt; 1.5)</text>
<text x="1341.7" y="218.25" font-size="22.48" font-weight="bold" fill="#000">Avg std.log.value</text>
<path d="M1345 248.6H1371" stroke="#FF0000" stroke-width="4.5"/>
<text x="1386" y="256.9" font-size="22.72" fill="#000">MDA8 O3 ( n = 8)</text>
<path d="M1345 280.6H1371" stroke="#0000FF" stroke-width="4.5"/>
<text x="1386" y="289" font-size="22.72" fill="#000">24hr PM25 ( n = 4)</text>
<path d="M1345 312.9H1371" stroke="#008B00" stroke-width="4.5"/>
<text x="1386" y="320.8" font-size="22.72" fill="#000">MDA8 CO ( n = 2)</text>
</svg></body></html>
